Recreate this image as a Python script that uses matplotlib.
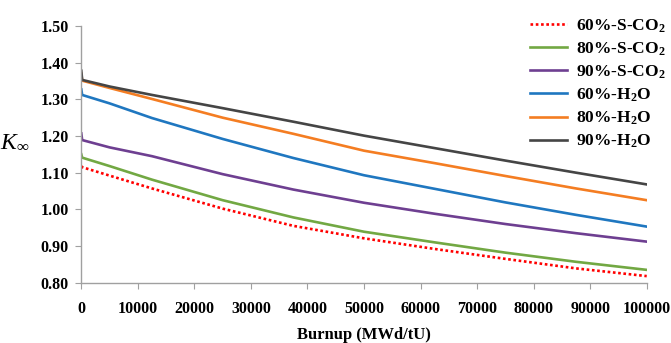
"""Kinf vs burnup for S-CO2 and H2O cooled cases."""

import matplotlib

matplotlib.use("Agg")
import matplotlib.pyplot as plt

plt.rcParams.update(
    {
        "font.family": "Liberation Serif",
        "font.weight": "bold",
        "mathtext.fontset": "custom",
        "mathtext.rm": "Liberation Serif:bold",
        "mathtext.it": "Liberation Serif:italic:normal",
        "mathtext.bf": "Liberation Serif:bold",
    }
)

# Burnup points (MWd/tU)
burnup = [0, 150, 5000, 12500, 25000, 37500, 50000, 62500, 75000, 87500, 100000]

# k-infinity per case
k_60_sco2 = [1.118, 1.115, 1.092, 1.057, 1.002, 0.955, 0.921, 0.892, 0.865, 0.839, 0.818]
k_80_sco2 = [1.150, 1.141, 1.118, 1.081, 1.025, 0.978, 0.939, 0.910, 0.882, 0.857, 0.835]
k_90_sco2 = [1.207, 1.189, 1.169, 1.145, 1.096, 1.054, 1.018, 0.988, 0.960, 0.935, 0.912]
k_60_h2o = [1.327, 1.312, 1.289, 1.249, 1.192, 1.140, 1.093, 1.056, 1.019, 0.985, 0.953]
k_80_h2o = [1.370, 1.351, 1.331, 1.301, 1.250, 1.206, 1.160, 1.126, 1.091, 1.057, 1.025]
k_90_h2o = [1.378, 1.353, 1.335, 1.312, 1.276, 1.239, 1.201, 1.167, 1.133, 1.100, 1.068]

labels = [
    "60%-S-CO$_2$",
    "80%-S-CO$_2$",
    "90%-S-CO$_2$",
    "60%-H$_2$O",
    "80%-H$_2$O",
    "90%-H$_2$O",
]
series = [k_60_sco2, k_80_sco2, k_90_sco2, k_60_h2o, k_80_h2o, k_90_h2o]
colors = ["#FF0000", "#72A843", "#6E3F91", "#1F77C0", "#F47D22", "#454545"]
styles = [(0, (1, 1)), "-", "-", "-", "-", "-"]

x_ticks = list(range(0, 100001, 10000))
y_ticks = [0.80, 0.90, 1.00, 1.10, 1.20, 1.30, 1.40, 1.50]

fig = plt.figure(figsize=(6.71, 3.43), dpi=100)
ax = fig.add_axes([0.1212, 0.1758, 0.8426, 0.7484])

for vals, lab, col, ls in zip(series, labels, colors, styles):
    ax.plot(burnup, vals, color=col, linestyle=ls, linewidth=1.9, label=lab)

ax.set_xlim(0, 100000)
ax.set_ylim(0.80, 1.50)
ax.set_xticks(x_ticks)
ax.set_xticklabels([str(v) for v in x_ticks])
ax.set_yticks(y_ticks)
ax.set_yticklabels([f"{v:.2f}" for v in y_ticks])

for side in ["top", "right"]:
    ax.spines[side].set_visible(False)
for side in ["left", "bottom"]:
    ax.spines[side].set_color("#A0A0A0")
    ax.spines[side].set_linewidth(1.0)

ax.tick_params(axis="both", direction="out", length=4, color="#A0A0A0", labelsize=11.5)
ax.tick_params(axis="x", pad=9)
ax.tick_params(axis="y", pad=5)

ax.set_xlabel("Burnup (MWd/tU)", fontsize=12, fontweight="bold")
ax.xaxis.set_label_coords(0.5, -0.172)
fig.text(0.022, 0.585, r"$K_{\infty}$", fontsize=17, ha="center", va="center")

leg = ax.legend(
    loc="upper left",
    bbox_to_anchor=(0.79, 0.95),
    bbox_transform=fig.transFigure,
    frameon=False,
    fontsize=12.5,
    handlelength=2.1,
    handletextpad=0.55,
    labelspacing=0.33,
    borderpad=0,
    borderaxespad=0,
)

fig.savefig("out.png", dpi=100)
